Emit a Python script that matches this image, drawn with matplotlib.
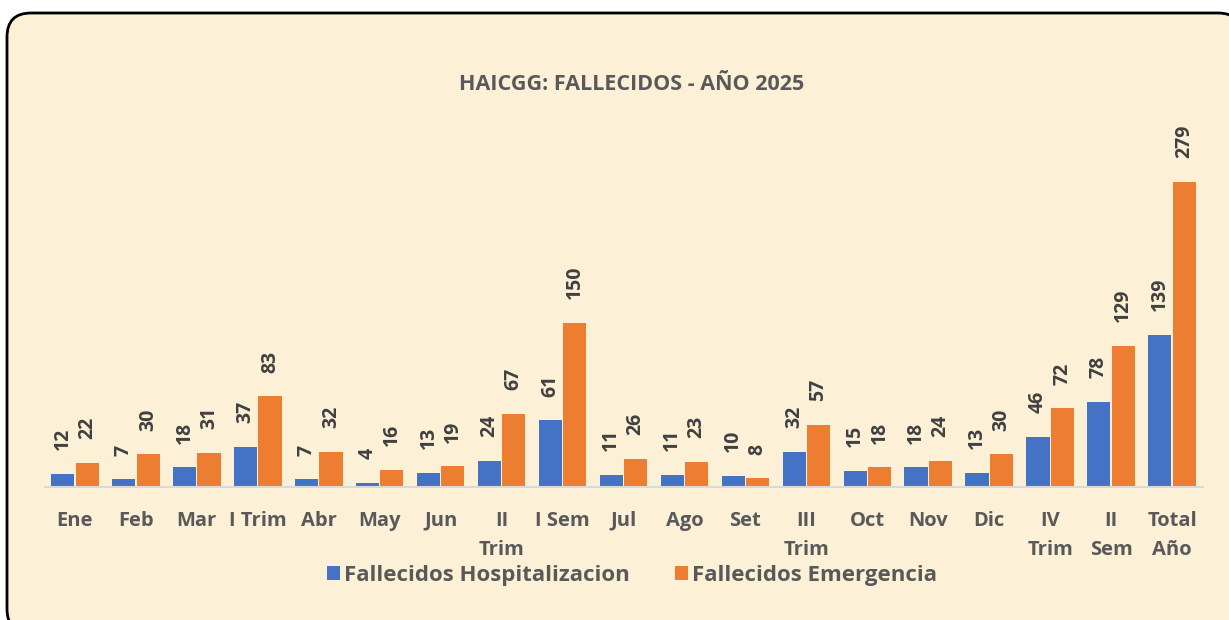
import matplotlib.pyplot as plt
from matplotlib.patches import FancyBboxPatch
import numpy as np

# categories and values
categories = ["Ene", "Feb", "Mar", "I Trim", "Abr", "May", "Jun", "II\nTrim", "I Sem",
              "Jul", "Ago", "Set", "III\nTrim", "Oct", "Nov", "Dic", "IV\nTrim", "II\nSem",
              "Total\nAño"]
hospitalizacion = [12, 7, 18, 37, 7, 4, 13, 24, 61, 11, 11, 10, 32, 15, 18, 13, 46, 78, 139]
emergencia = [22, 30, 31, 83, 32, 16, 19, 67, 150, 26, 23, 8, 57, 18, 24, 30, 72, 129, 279]

BLUE = "#4472C4"
ORANGE = "#ED7D31"
GREY = "#595959"
DARK = "#404040"
FONT = "Open Sans"

W, H = 1229, 620
fig = plt.figure(figsize=(W / 100, H / 100), dpi=100, facecolor="white")

# background panel with rounded border, drawn in pixel coordinates
bg = fig.add_axes([0, 0, 1, 1], zorder=0)
bg.set_xlim(0, W)
bg.set_ylim(H, 0)
bg.axis("off")
bg.add_patch(FancyBboxPatch((7, 13), 1235, 620, boxstyle="round,pad=0,rounding_size=24",
                            facecolor="#FCF1D7", edgecolor="black", linewidth=2))

ax = fig.add_axes([44.5 / W, 133 / H, 1158 / W, 328 / H], zorder=1)
ax.patch.set_alpha(0)

x = np.arange(len(categories))
bw = 0.38
b1 = ax.bar(x - 0.2, hospitalizacion, bw, color=BLUE, label="Fallecidos Hospitalizacion")
b2 = ax.bar(x + 0.2, emergencia, bw, color=ORANGE, label="Fallecidos Emergencia")

for bars, vals in ((b1, hospitalizacion), (b2, emergencia)):
    for rect, v in zip(bars, vals):
        ax.annotate(str(v), (rect.get_x() + rect.get_width() / 2, v),
                    xytext=(0, 17), textcoords="offset points",
                    rotation=90, ha="center", va="bottom",
                    fontsize=14, fontweight="bold", color=DARK, family=FONT)

ax.set_xlim(-0.5, len(categories) - 0.5)
ax.set_ylim(0, 300)
ax.set_yticks([])
ax.set_xticks(x)
ax.set_xticklabels(categories, fontsize=14.5, fontweight="bold", color=GREY,
                   family=FONT, linespacing=1.6)
ax.tick_params(axis="x", length=0, pad=17)
for s in ("top", "right", "left"):
    ax.spines[s].set_visible(False)
ax.spines["bottom"].set_color("#D9D9D9")
ax.spines["bottom"].set_linewidth(1.5)

fig.text(632 / W, 1 - 85 / H, "HAICGG: FALLECIDOS - AÑO 2025", ha="center", va="center",
         fontsize=15.5, fontweight="bold", color=GREY, family=FONT)

leg = fig.legend(handles=[b1, b2], loc="center", bbox_to_anchor=(632 / W, 1 - 575 / H),
                 ncol=2, frameon=False, handlelength=0.6, handleheight=0.6,
                 handletextpad=0.2, columnspacing=2.0,
                 prop={"family": FONT, "weight": "bold", "size": 16})
for t in leg.get_texts():
    t.set_color(GREY)

fig.savefig("out.png", dpi=100)
